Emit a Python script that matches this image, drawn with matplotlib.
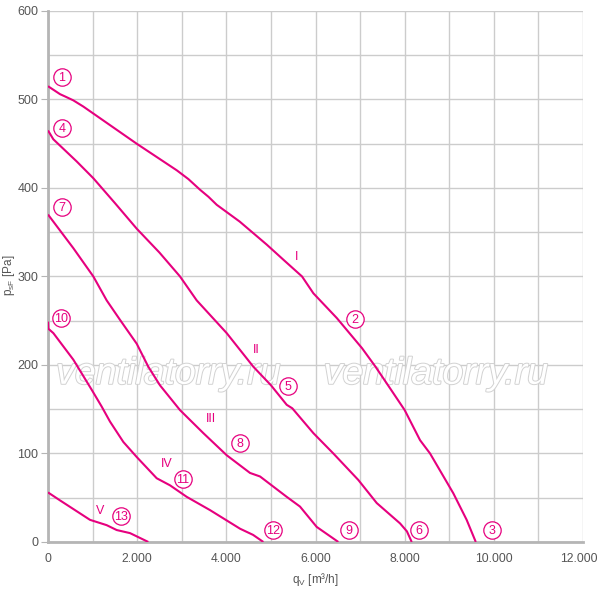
import numpy as np
import matplotlib.pyplot as plt
import matplotlib.patheffects as pe
from matplotlib.ticker import FuncFormatter, MultipleLocator
from matplotlib.transforms import ScaledTranslation

# curve data: flow q_V [m3/h], pressure p_sF [Pa]
q_I = [0, 150, 270, 400, 568, 792, 1990, 2887, 3150, 3410, 3600, 3784, 4300, 4906, 5300, 5698, 5952, 6478, 7043, 7346, 7694, 8000, 8345, 8569, 9091, 9390, 9595]
p_I = [515, 510, 506, 503, 499, 492, 450, 420, 410, 398, 390, 381, 362, 336, 318, 300, 281, 253, 219, 198, 172, 149, 115, 100, 55, 25, 0]

q_II = [0, 120, 643, 1017, 1500, 1990, 2500, 2961, 3335, 4008, 4606, 5002, 5354, 5480, 5952, 6400, 6961, 7373, 7896, 8050, 8158]
p_II = [465, 455, 430, 411, 383, 354, 327, 300, 273, 236, 198, 177, 155, 151, 123, 100, 70, 44, 21, 12, 0]

q_III = [0, 269, 568, 1017, 1316, 1615, 1990, 2250, 2512, 2961, 3484, 4008, 4531, 4756, 5354, 5652, 6027, 6512]
p_III = [370, 352, 332, 300, 273, 251, 224, 198, 177, 149, 123, 98, 78, 74, 51, 40, 17, 0]

q_IV = [0, 7, 120, 568, 980, 1204, 1391, 1690, 1990, 2438, 2737, 3111, 3634, 4307, 4600, 4830]
p_IV = [249, 241, 236, 206, 172, 153, 136, 113, 96, 72, 64, 51, 36, 15, 8, 0]

q_V = [0, 269, 942, 1316, 1540, 1840, 2250]
p_V = [56, 47, 25, 19, 13.5, 10, 0]

curves = [(q_I, p_I), (q_II, p_II), (q_III, p_III), (q_IV, p_IV), (q_V, p_V)]

roman = ['I', 'II', 'III', 'IV', 'V']
roman_q = [5585, 4666, 3656, 2669, 1166]
roman_p = [322, 217, 139, 88, 35]

point_no = ['1', '4', '7', '10', '2', '5', '8', '11', '12', '13', '9', '6', '3']
point_q = [314, 314, 314, 292, 6887, 5384, 4307, 3028, 5047, 1637, 6752, 8322, 9960]
point_p = [525, 468, 378, 253, 252, 176, 112, 71, 13.5, 29, 13.5, 13.5, 13.5]

mag = '#e6007e'
gray = '#555555'

plt.rcParams['font.family'] = ['Liberation Sans', 'DejaVu Sans']

fig = plt.figure(figsize=(6, 5.9), dpi=100)
ax = fig.add_axes([0.08, 0.0814, 0.8917, 0.9])

for q, p in curves:
    ax.plot(q, p, color=mag, lw=1.5, zorder=5, solid_capstyle='butt', solid_joinstyle='round')

for t, x, y in zip(roman, roman_q, roman_p):
    ax.text(x, y, t, color=mag, fontsize=9, ha='center', va='center', zorder=6)

ax.plot(point_q, point_p, 'o', ms=12.5, mfc='white', mec=mag, mew=0.9, zorder=6)
for t, x, y in zip(point_no, point_q, point_p):
    ax.text(x, y - 1, t, color=mag, fontsize=9, ha='center', va='center', zorder=7)

# watermark
for xw in [2700, 8700]:
    ax.text(xw, 190, 'ventilatorry.ru', fontsize=27, style='italic', color='white',
            ha='center', va='center', zorder=3,
            path_effects=[pe.withStroke(linewidth=1.4, foreground='#d2d2d2')])

ax.set_xlim(0, 12000)
ax.set_ylim(0, 600)
ax.xaxis.set_major_locator(MultipleLocator(2000))
ax.xaxis.set_minor_locator(MultipleLocator(1000))
ax.yaxis.set_major_locator(MultipleLocator(100))
ax.yaxis.set_minor_locator(MultipleLocator(50))
ax.xaxis.set_major_formatter(FuncFormatter(lambda v, _: f'{int(v):,}'.replace(',', '.')))
ax.grid(which='both', color='#cccccc', lw=1, zorder=0)
ax.set_axisbelow(True)

for s in ['top', 'right']:
    ax.spines[s].set_visible(False)
for s in ['left', 'bottom']:
    ax.spines[s].set_color('#b5b5b5')
    ax.spines[s].set_linewidth(2)

ax.tick_params(axis='y', which='major', length=5, pad=2, color='#b5b5b5', labelcolor=gray, labelsize=9)
ax.tick_params(axis='x', which='major', length=0, pad=8, labelcolor=gray, labelsize=8.7)
ax.tick_params(which='minor', length=0)

ax.set_xlabel('q$_\\mathregular{V}$ [m³/h]', color=gray, fontsize=8.5, labelpad=4)
fig.text(0.015, 0.534, 'p$_\\mathregular{sF}$ [Pa]', color=gray, fontsize=8.5,
         rotation=90, ha='center', va='center')

# nudge the last x label so it stays inside the picture
fig.canvas.draw()
last = [t for t in ax.get_xticklabels() if t.get_text() == '12.000'][0]
last.set_transform(last.get_transform() + ScaledTranslation(-4 / 100, 0, fig.dpi_scale_trans))

fig.savefig('out.png', dpi=100)
